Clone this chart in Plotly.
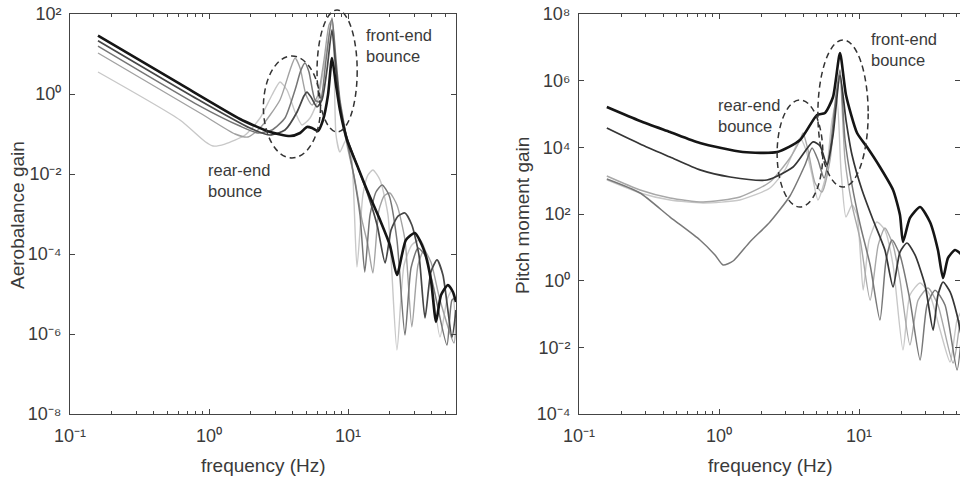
import plotly.graph_objects as go

# ---------------- Left panel: Aerobalance gain ----------------
ab_a_freq = [0.159, 0.618, 1.67, 2.18, 2.75, 3.83, 4.52, 5.07, 5.51, 6.08, 6.61, 7.18, 7.67, 8.2, 8.75, 9.84, 11.6, 13.7, 17.0, 20.0, 22.5, 26.1, 30.3, 35.2, 39.5, 43.0, 46.7, 52.4, 56.9, 59.8]
ab_a_gain = [28.7, 1.78, 0.237, 0.155, 0.112, 0.0891, 0.106, 0.150, 0.141, 0.119, 0.224, 0.944, 7.94, 1.68, 0.398, 0.0708, 0.0168, 4.0e-3, 7.1e-4, 1.68e-4, 2.99e-5, 2.24e-4, 3.35e-4, 1.26e-4, 2.24e-5, 2.0e-6, 9.4e-6, 1.68e-5, 1.12e-5, 6.3e-6]

ab_b_freq = [0.159, 0.861, 1.97, 2.75, 3.52, 4.30, 4.82, 5.07, 5.42, 5.98, 6.50, 7.06, 7.67, 8.2, 8.75, 9.84, 11.6, 13.7, 16.2, 18.5, 20.4, 22.9, 25.7, 28.8, 32.4, 35.8, 39.5, 43.7, 48.2, 56.0, 59.8]
ab_b_gain = [21.5, 0.684, 0.141, 0.0944, 0.126, 0.355, 0.89, 1.12, 0.84, 0.473, 0.71, 4.0, 40, 4.0, 0.53, 0.0794, 0.0168, 3.55e-3, 5.3e-4, 5.96e-5, 3.98e-4, 8.9e-4, 1.06e-3, 5.3e-4, 9.4e-5, 2.51e-6, 3.55e-5, 7.1e-5, 2.99e-5, 8.4e-7, 3.98e-6]

ab_c_freq = [0.159, 0.861, 1.67, 2.25, 2.84, 3.52, 4.16, 4.59, 4.91, 5.24, 5.79, 6.29, 6.95, 7.67, 8.2, 8.75, 9.84, 11.0, 12.2, 13.2, 14.4, 15.9, 17.6, 19.7, 22.5, 25.7, 28.4, 31.9, 35.8, 40.9, 51.5, 56.0, 59.8]
ab_c_gain = [15.8, 0.50, 0.158, 0.106, 0.126, 0.251, 1.26, 4.0, 5.96, 3.55, 0.71, 0.63, 7.08, 79, 7.08, 0.71, 0.0708, 9.4e-3, 9.4e-4, 3.55e-5, 9.4e-4, 3.55e-3, 5.3e-3, 2.99e-3, 2.24e-4, 9.4e-7, 4.47e-5, 1.41e-4, 9.4e-5, 1.68e-5, 5.3e-7, 7.1e-6, 7.9e-6]

ab_d_freq = [0.159, 0.861, 1.54, 1.91, 2.33, 3.24, 3.83, 4.16, 4.52, 4.99, 5.51, 6.08, 6.72, 7.3, 7.67, 8.06, 8.75, 9.84, 11.2, 12.6, 13.9, 15.1, 16.7, 18.2, 20.0, 22.5, 25.7, 28.8, 31.9, 35.2, 39.5, 45.9, 57.9, 59.8]
ab_d_gain = [10.6, 0.335, 0.1, 0.0841, 0.141, 0.71, 4.0, 7.94, 4.47, 0.944, 0.53, 0.944, 7.08, 53, 71, 9.44, 0.53, 0.0531, 7.1e-3, 7.1e-4, 1.68e-4, 3.35e-5, 1.26e-3, 2.82e-3, 3.35e-3, 1.68e-3, 2.24e-4, 1.5e-6, 5.3e-5, 1.26e-4, 6.3e-5, 7.1e-6, 5.96e-7, 2.24e-6]

ab_e_freq = [0.159, 0.618, 0.935, 1.07, 1.30, 1.82, 2.33, 2.84, 3.24, 3.64, 4.16, 4.67, 5.33, 6.08, 6.83, 7.6, 7.9, 8.2, 8.75, 9.68, 10.5, 11.6, 12.8, 13.9, 15.1, 17.0, 19.4, 22.5, 25.3, 28.8, 33.0, 37.7, 45.9, 51.5, 56.0, 59.8]
ab_e_gain = [3.55, 0.224, 0.065, 0.05, 0.056, 0.0944, 0.251, 0.944, 2.0, 1.26, 0.355, 0.168, 0.251, 0.71, 7.08, 63, 12.6, 0.0944, 0.0355, 0.0708, 0.0398, 4.73e-5, 2.99e-3, 9.4e-3, 0.0126, 7.1e-3, 9.4e-4, 3.98e-7, 5.3e-5, 1.68e-4, 2.24e-4, 7.1e-5, 8.4e-7, 7.1e-6, 1.26e-5, 1.26e-6]

# ---------------- Right panel: Pitch moment gain ----------------
pm_a_freq = [0.158, 0.273, 0.447, 0.731, 1.48, 2.6, 3.79, 5.01, 5.71, 6.52, 7.31, 8.07, 9.68, 11.4, 14.1, 17.5, 19.6, 20.6, 23.1, 27.3, 32.1, 36.6, 39.8, 43.2, 48.5, 54.4]
pm_a_gain = [1.62e5, 6.17e4, 2.88e4, 1.35e4, 7.24e3, 7.24e3, 1.66e4, 9.33e4, 1.07e5, 3.24e5, 6.76e6, 3.72e5, 2.69e4, 1.02e4, 2.57e3, 525, 93, 14.5, 76, 162, 57.5, 8.3, 1.2, 4.8, 8.3, 5.9]

pm_b_freq = [0.158, 0.273, 0.447, 0.731, 1.2, 2.2, 3.38, 4.69, 5.27, 5.91, 6.52, 7.31, 8.07, 8.91, 10.5, 12.6, 15.3, 17.5, 19.6, 22.0, 25.1, 29.6, 33.8, 36.6, 39.8, 44.7, 50.1, 54.4]
pm_b_gain = [3.8e4, 1.26e4, 5.1e3, 2.1e3, 1.29e3, 1.05e3, 2.57e3, 1.45e4, 1.1e4, 2.95e3, 2.34e4, 1.48e6, 6.6e4, 5.9e3, 525, 66, 8.3, 0.65, 7.2, 13.5, 5.9, 0.74, 0.033, 0.37, 0.91, 0.46, 0.093, 0.0166]

pm_c_freq = [0.158, 0.273, 0.447, 0.769, 1.41, 2.31, 3.21, 3.79, 3.98, 4.32, 4.85, 5.44, 6.21, 6.85, 7.31, 7.94, 8.91, 10.2, 12.0, 13.7, 15.3, 17.5, 19.6, 23.1, 26.4, 31.1, 36.6, 46.9, 52.6]
pm_c_gain = [1.38e3, 525, 302, 229, 324, 912, 4.79e3, 1.66e4, 2.69e4, 8.32e3, 851, 457, 4.17e3, 2.63e5, 1.2e6, 4.17e3, 186, 16.6, 0.26, 11.7, 38, 11.7, 1.05, 0.0117, 0.26, 0.6, 0.186, 3.39e-3, 0.066]

pm_d_freq = [0.158, 0.273, 0.447, 0.769, 1.41, 2.31, 2.96, 3.49, 3.79, 4.18, 4.62, 5.09, 5.81, 6.41, 6.96, 7.43, 8.07, 8.91, 9.68, 10.7, 11.8, 13.4, 15.3, 17.5, 20.6, 23.1, 27.3, 32.1, 37.9, 44.7, 50.1, 54.4]
pm_d_gain = [1.05e3, 427, 263, 214, 263, 603, 2.1e3, 9.55e3, 1.91e4, 8.32e3, 1.48e3, 263, 1.48e3, 6.6e4, 2.63e5, 2.1e3, 81, 186, 93, 0.52, 16.6, 57.5, 33, 2.95, 8.3e-3, 0.37, 0.85, 0.37, 0.033, 3.63e-3, 0.066, 0.132]

pm_e_freq = [0.158, 0.273, 0.447, 0.731, 0.936, 1.07, 1.26, 1.66, 2.31, 3.21, 4.11, 4.62, 5.09, 5.62, 6.21, 6.85, 7.31, 7.94, 8.91, 10.2, 12.0, 14.1, 15.6, 17.2, 19.6, 23.1, 27.3, 30.6, 34.9, 41.1, 50.1, 54.4]
pm_e_gain = [1.12e3, 427, 81, 16.6, 5.9, 2.95, 3.89, 14.5, 57.5, 347, 2.95e3, 9.55e3, 4.17e3, 1.2e3, 8.32e3, 3.72e5, 2.09e6, 1.66e4, 741, 46.8, 2.95, 0.066, 4.17, 16.6, 5.9, 0.26, 4.17e-3, 0.186, 0.52, 0.186, 2.09e-3, 0.033]

# ---------------- ticks ----------------
x_tickvals = [0.1, 1, 10]
x_ticktext = ["10\u207b\u00b9", "10\u2070", "10\u00b9"]
x_minor = [m * d for d in (0.1, 1, 10) for m in range(2, 10)]
ab_tickvals = [1e2, 1e0, 1e-2, 1e-4, 1e-6, 1e-8]
ab_ticktext = ["10\u00b2", "10\u2070", "10\u207b\u00b2", "10\u207b\u2074", "10\u207b\u2076", "10\u207b\u2078"]
pm_tickvals = [1e8, 1e6, 1e4, 1e2, 1e0, 1e-2, 1e-4]
pm_ticktext = ["10\u2078", "10\u2076", "10\u2074", "10\u00b2", "10\u2070", "10\u207b\u00b2", "10\u207b\u2074"]

FONT = "Liberation Sans, Arial, sans-serif"
TXT = "#3a3a3a"

left_series = [
    (ab_e_freq, ab_e_gain, "#c8c8c8", 1.4),
    (ab_d_freq, ab_d_gain, "#a2a2a2", 1.4),
    (ab_c_freq, ab_c_gain, "#767676", 1.5),
    (ab_b_freq, ab_b_gain, "#474747", 1.7),
    (ab_a_freq, ab_a_gain, "#151515", 2.6),
]
right_series = [
    (pm_d_freq, pm_d_gain, "#c8c8c8", 1.4),
    (pm_c_freq, pm_c_gain, "#a8a8a8", 1.4),
    (pm_e_freq, pm_e_gain, "#787878", 1.5),
    (pm_b_freq, pm_b_gain, "#353535", 1.7),
    (pm_a_freq, pm_a_gain, "#151515", 2.6),
]

fig = go.Figure()
for f, g, c, w in left_series:
    fig.add_trace(go.Scatter(x=f, y=g, mode="lines",
                             line=dict(color=c, width=w, shape="spline", smoothing=0.6),
                             xaxis="x", yaxis="y", showlegend=False, hoverinfo="skip"))
for f, g, c, w in right_series:
    fig.add_trace(go.Scatter(x=f, y=g, mode="lines",
                             line=dict(color=c, width=w, shape="spline", smoothing=0.6),
                             xaxis="x2", yaxis="y2", showlegend=False, hoverinfo="skip"))

W, H = 960, 480
L_X0, L_X1 = 70, 456
R_X0, R_X1 = 579, 960
Y_TOP, Y_BOT = 14, 414

def axis_common():
    return dict(type="log", showline=True, linecolor="#444", linewidth=1, mirror="ticks",
                ticks="inside", ticklen=5, tickcolor="#444", showgrid=False, zeroline=False,
                tickfont=dict(family=FONT, size=18, color=TXT), automargin=False,
                tickmode="array")

xa = axis_common()
xa.update(domain=[L_X0 / W, L_X1 / W], range=[-1, 1.777], anchor="y",
          tickvals=x_tickvals, ticktext=x_ticktext, ticklabelstandoff=5,
          minor=dict(tickmode="array", tickvals=x_minor, ticks="inside", ticklen=3, tickcolor="#444"))
xa2 = axis_common()
xa2.update(domain=[R_X0 / W, R_X1 / W], range=[-1, 1.721], anchor="y2",
           tickvals=x_tickvals, ticktext=x_ticktext, ticklabelstandoff=5,
           minor=dict(tickmode="array", tickvals=x_minor, ticks="inside", ticklen=3, tickcolor="#444"))
ya = axis_common()
ya.update(domain=[1 - Y_BOT / H, 1 - Y_TOP / H], range=[-8, 2], anchor="x",
          tickvals=ab_tickvals, ticktext=ab_ticktext, ticklabelstandoff=4)
ya2 = axis_common()
ya2.update(domain=[1 - Y_BOT / H, 1 - Y_TOP / H], range=[-4, 8], anchor="x2",
           tickvals=pm_tickvals, ticktext=pm_ticktext, ticklabelstandoff=4)

def ellipse(xref, yref, x0, x1, y0, y1):
    return dict(type="circle", xref=xref, yref=yref, x0=x0, x1=x1, y0=y0, y1=y1,
                line=dict(color="#333", width=1.5, dash="6px,4px"), layer="above")

shapes = [
    ellipse("x domain", "y domain", 0.501, 0.649, 0.64, 0.895),
    ellipse("x domain", "y domain", 0.640, 0.744, 0.705, 1.01),
    ellipse("x2 domain", "y2 domain", 0.520, 0.640, 0.5175, 0.785),
    ellipse("x2 domain", "y2 domain", 0.627, 0.759, 0.5675, 0.935),
]

def note(text, px, py, size=16.5, angle=0, xanchor="left"):
    return dict(text=text, x=px / W, y=1 - py / H, xref="paper", yref="paper",
                showarrow=False, xanchor=xanchor, yanchor="middle", align="left",
                textangle=angle, font=dict(family=FONT, size=size, color=TXT))

annotations = [
    note("front-end<br>bounce", 364, 45),
    note("rear-end<br>bounce", 206, 180),
    note("rear-end<br>bounce", 716, 115),
    note("front-end<br>bounce", 869, 50),
    note("Aerobalance gain", 17, 215, size=19, angle=-90, xanchor="center"),
    note("Pitch moment gain", 523, 216, size=19, angle=-90, xanchor="center"),
    note("frequency (Hz)", 263, 465, size=19, xanchor="center"),
    note("frequency (Hz)", 770, 465, size=19, xanchor="center"),
]

fig.update_layout(width=W, height=H, margin=dict(l=0, r=0, t=0, b=0),
                  paper_bgcolor="white", plot_bgcolor="white",
                  xaxis=xa, yaxis=ya, xaxis2=xa2, yaxis2=ya2,
                  shapes=shapes, annotations=annotations, showlegend=False)

fig.write_html("out.html")
